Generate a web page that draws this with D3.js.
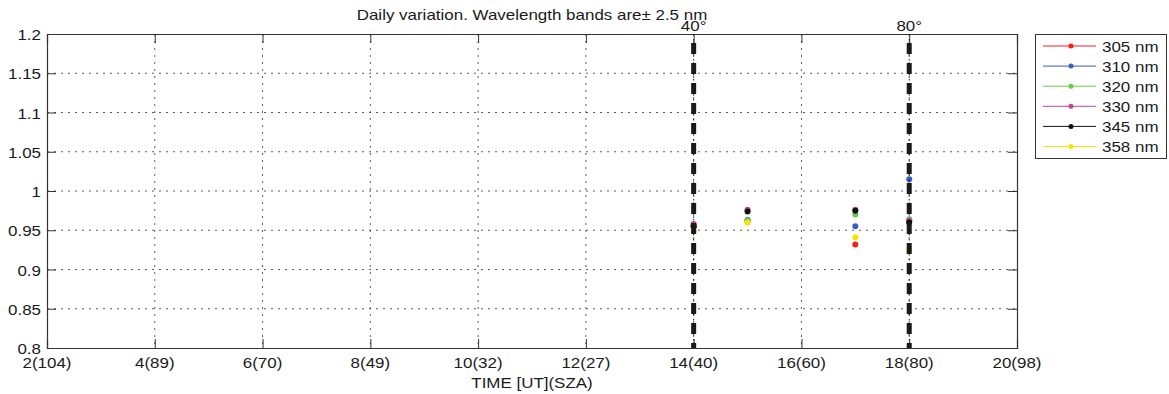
<!DOCTYPE html>
<html>
<head>
<meta charset="utf-8">
<script src="https://cdn.jsdelivr.net/npm/d3@7"></script>
<style>
  html, body { margin: 0; padding: 0; background: #fff; }
  svg { display: block; }
  text { font-family: "Liberation Sans", Arial, sans-serif; fill: #1a1a1a; }
</style>
</head>
<body>
<svg id="chart" width="1169" height="394"></svg>
<script>
// ---- data ----
const times = [14, 15, 17, 18];
const wavelengths = ["305 nm", "310 nm", "320 nm", "330 nm", "345 nm", "358 nm"];
const colors = ["#ff1a1a", "#3a5cc4", "#66cc44", "#c0449c", "#111111", "#f2e600"];
const v305 = [0.955, 0.962, 0.932, 0.962];
const v310 = [0.955, 0.963, 0.955, 1.015];
const v320 = [0.955, 0.962, 0.970, 0.964];
const v330 = [0.958, 0.976, 0.976, 0.962];
const v345 = [0.955, 0.974, 0.975, 0.960];
const v358 = [0.949, 0.960, 0.941, 0.924];
const seriesValues = [v305, v310, v320, v330, v345, v358];
const xTicks = [2, 4, 6, 8, 10, 12, 14, 16, 18, 20];
const xTickLabels = ["2(104)", "4(89)", "6(70)", "8(49)", "10(32)", "12(27)", "14(40)", "16(60)", "18(80)", "20(98)"];
const yTicks = [0.8, 0.85, 0.9, 0.95, 1, 1.05, 1.1, 1.15, 1.2];
const markerTimes = [14, 18];
const markerLabels = ["40°", "80°"];
const titleText = "Daily variation. Wavelength bands are\u00B1 2.5 nm";
const xLabel = "TIME [UT](SZA)";

// ---- layout ----
const L = 47, R = 1017, T = 34, B = 348;
const SX = 1.13, FS = 15;
const svg = d3.select("#chart");
const x = d3.scaleLinear().domain([2, 20]).range([L, R]);
const y = d3.scaleLinear().domain([0.8, 1.2]).range([B, T]);

function stext(g, tx, ty, str, anchor, size) {
  const gg = g.append("g").attr("transform", `translate(${tx},${ty}) scale(${SX},1)`);
  gg.append("text").attr("text-anchor", anchor || "start")
    .style("font-size", (size || FS) + "px").text(str);
  return gg;
}

// grid
const grid = svg.append("g");
grid.selectAll("line.gx").data(xTicks.slice(1, -1)).join("line")
  .attr("x1", d => x(d)).attr("x2", d => x(d)).attr("y1", T).attr("y2", B)
  .attr("stroke", "#333").attr("stroke-width", 0.8).attr("stroke-dasharray", "2,5");
grid.selectAll("line.gy").data(yTicks.slice(1, -1)).join("line")
  .attr("y1", d => y(d)).attr("y2", d => y(d)).attr("x1", L).attr("x2", R)
  .attr("stroke", "#333").attr("stroke-width", 0.8).attr("stroke-dasharray", "2,5");

// axes (inward ticks, box)
const tk = 9;
const axB = d3.axisBottom(x).tickValues(xTicks).tickSize(-tk).tickFormat(() => "");
const axT = d3.axisTop(x).tickValues(xTicks).tickSize(-tk).tickFormat(() => "");
const axLft = d3.axisLeft(y).tickValues(yTicks).tickSize(-tk).tickFormat(() => "");
const axRt = d3.axisRight(y).tickValues(yTicks).tickSize(-tk).tickFormat(() => "");
[[axB, `translate(0,${B})`], [axT, `translate(0,${T})`], [axLft, `translate(${L},0)`], [axRt, `translate(${R},0)`]]
  .forEach(([ax, tr]) => {
    const g = svg.append("g").attr("transform", tr).call(ax);
    g.selectAll("path.domain").attr("stroke", "#333").attr("stroke-width", 1.2);
    g.selectAll(".tick line").attr("stroke", "#333").attr("stroke-width", 1);
  });

// tick labels
const labs = svg.append("g");
xTicks.forEach((t, i) => stext(labs, x(t), 368, xTickLabels[i], "middle"));
yTicks.forEach(t => stext(labs, 41, y(t) + 6, d3.format("~g")(t), "end"));

// points
seriesValues.forEach((vals, si) => {
  svg.append("g").selectAll("circle").data(vals).join("circle")
    .attr("cx", (d, i) => x(times[i])).attr("cy", d => y(d)).attr("r", 3)
    .attr("fill", colors[si]);
});

// vertical SZA markers (drawn over the points, as in the reference)
markerTimes.forEach((t, i) => {
  svg.append("line").attr("x1", x(t)).attr("x2", x(t)).attr("y1", T + 9).attr("y2", B)
    .attr("stroke", "#1a1a1a").attr("stroke-width", 5).attr("stroke-dasharray", "11,9");
  svg.append("line").attr("x1", x(t)).attr("x2", x(t)).attr("y1", T).attr("y2", B)
    .attr("stroke", "#1a1a1a").attr("stroke-width", 1).attr("stroke-dasharray", "1.5,3.5");
  stext(svg, x(t), 31, markerLabels[i], "middle");
});

// title and x label
stext(svg, (L + R) / 2, 20, titleText, "middle");
stext(svg, (L + R) / 2, 388, xLabel, "middle");

// legend
const lg = svg.append("g");
lg.append("rect").attr("x", 1035.5).attr("y", 34.5).attr("width", 131).attr("height", 124)
  .attr("fill", "#fff").attr("stroke", "#333").attr("stroke-width", 1);
wavelengths.forEach((w, i) => {
  const yy = 46 + i * 20.1;
  lg.append("line").attr("x1", 1043).attr("x2", 1096).attr("y1", yy).attr("y2", yy)
    .attr("stroke", colors[i]).attr("stroke-width", 1);
  lg.append("circle").attr("cx", 1071).attr("cy", yy).attr("r", 2.5).attr("fill", colors[i]);
  stext(lg, 1102, yy + 5.5, w, "start");
});
</script>
</body>
</html>
